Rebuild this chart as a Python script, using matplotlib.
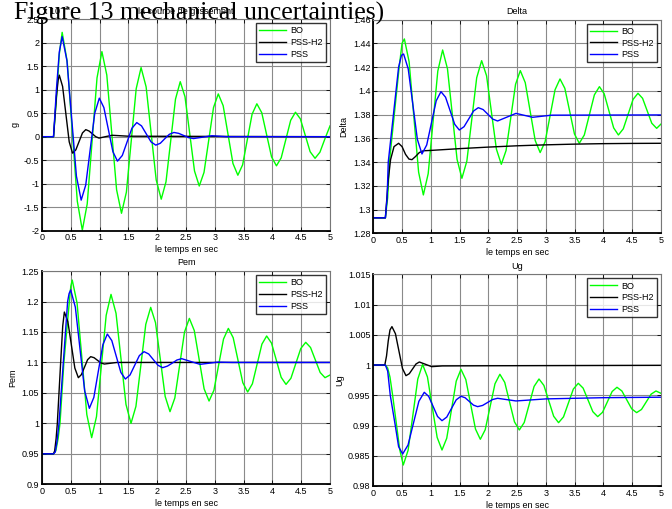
import matplotlib
matplotlib.use('Agg')
import matplotlib.pyplot as plt
import numpy as np

# ---- data ----
# panel 1: la courbe de glissement (g, x1e-3)
g_bo_t = [0, 0.2, 0.25, 0.30, 0.35, 0.4375, 0.525, 0.6125, 0.70, 0.785, 0.87, 0.955,
          1.04, 1.125, 1.21, 1.295, 1.38, 1.465, 1.55, 1.635, 1.72, 1.8075, 1.895, 1.9825,
          2.07, 2.1525, 2.235, 2.3175, 2.40, 2.4825, 2.565, 2.6475, 2.73, 2.8125, 2.895, 2.9775,
          3.06, 3.145, 3.23, 3.315, 3.40, 3.4825, 3.565, 3.6475, 3.73, 3.815, 3.90, 3.985,
          4.07, 4.1525, 4.235, 4.3175, 4.40, 4.485, 4.57, 4.655, 4.74, 4.825, 4.91, 5.0]
g_bo = [0, 0, 0.8, 1.75, 2.22, 1.60, 0.115, -1.37, -1.99, -1.43, -0.09, 1.25,
        1.81, 1.31, 0.09, -1.13, -1.63, -1.18, -0.08, 1.02, 1.47, 1.06, 0.07, -0.92,
        -1.33, -0.96, -0.08, 0.80, 1.17, 0.85, 0.06, -0.73, -1.05, -0.76, -0.07, 0.62,
        0.91, 0.66, 0.045, -0.57, -0.82, -0.60, -0.06, 0.48, 0.70, 0.51, 0.04, -0.43,
        -0.62, -0.45, -0.05, 0.35, 0.52, 0.38, 0.03, -0.32, -0.46, -0.33, -0.05, 0.23]
g_h2_t = [0, 0.2, 0.25, 0.28, 0.30, 0.3575, 0.415, 0.4725, 0.53, 0.5875, 0.645, 0.7025,
          0.76, 0.8175, 0.875, 0.9325, 0.99, 1.1, 1.22, 1.5, 5.0]
g_h2 = [0, 0, 0.85, 1.2, 1.31, 1.07, 0.48, -0.11, -0.35, -0.28, -0.10, 0.08,
        0.15, 0.12, 0.06, 0.0, -0.03, 0.0, 0.03, 0.01, 0.0]
g_pss_t = [0, 0.2, 0.25, 0.30, 0.35, 0.4325, 0.515, 0.5975, 0.68, 0.759, 0.8375, 0.916,
           0.995, 1.074, 1.1525, 1.231, 1.31, 1.394, 1.4775, 1.561, 1.645, 1.7275, 1.81, 1.8925,
           1.975, 2.054, 2.13, 2.21, 2.29, 2.375, 2.46, 2.545, 2.63, 2.95, 3.2, 5.0]
g_pss = [0, 0, 1.0, 1.8, 2.13, 1.62, 0.39, -0.84, -1.35, -1.03, -0.265, 0.50,
         0.82, 0.62, 0.15, -0.32, -0.52, -0.40, -0.11, 0.18, 0.30, 0.23, 0.06, -0.11,
         -0.18, -0.14, -0.045, 0.05, 0.09, 0.07, 0.025, -0.02, -0.04, 0.02, 0.0, 0.0]

# panel 2: Delta
d_bo_t = [0, 0.21, 0.25, 0.28, 0.365, 0.45, 0.50, 0.54, 0.6225, 0.705, 0.7875, 0.87,
          0.954, 1.0375, 1.121, 1.205, 1.289, 1.3725, 1.456, 1.54, 1.626, 1.7115, 1.797,
          1.883, 1.9685, 2.054, 2.1395, 2.225, 2.3075, 2.39, 2.4725, 2.555, 2.641, 2.7275,
          2.814, 2.90, 2.986, 3.0725, 3.159, 3.245, 3.329, 3.4125, 3.496, 3.58, 3.6675,
          3.755, 3.8425, 3.93, 4.0125, 4.095, 4.1775, 4.26, 4.345, 4.43, 4.515, 4.60,
          4.68, 4.76, 4.84, 4.925, 5.0]
d_bo = [1.293, 1.293, 1.31, 1.34, 1.38, 1.42, 1.44, 1.4437, 1.4245, 1.378, 1.3315, 1.3123,
        1.3302, 1.3734, 1.4166, 1.4344, 1.4186, 1.3804, 1.3422, 1.3263, 1.3408, 1.3759, 1.411,
        1.4254, 1.4127, 1.3818, 1.3509, 1.3381, 1.3497, 1.3776, 1.4055, 1.417, 1.4069, 1.3825,
        1.3581, 1.348, 1.3571, 1.379, 1.4009, 1.41, 1.4021, 1.3829, 1.3637, 1.3558, 1.3628,
        1.3797, 1.3966, 1.4035, 1.3976, 1.3832, 1.3688, 1.3628, 1.3680, 1.3804, 1.3928, 1.3979,
        1.3937, 1.3832, 1.3727, 1.3684, 1.372]
d_h2_t = [0, 0.21, 0.26, 0.30, 0.36, 0.44, 0.50, 0.56, 0.62, 0.672, 0.73, 0.80, 0.87,
          1.0, 1.5, 2.0, 2.5, 3.0, 3.5, 4.0, 4.5, 5.0]
d_h2 = [1.293, 1.293, 1.325, 1.342, 1.353, 1.3558, 1.353, 1.3465, 1.3425, 1.342, 1.3445,
        1.348, 1.3495, 1.3498, 1.3513, 1.3526, 1.3537, 1.3545, 1.3551, 1.3555, 1.3557, 1.3558]
d_pss_t = [0, 0.21, 0.24, 0.26, 0.35, 0.44, 0.49, 0.527, 0.607, 0.6865, 0.766, 0.846,
           0.9285, 1.011, 1.0935, 1.176, 1.256, 1.3355, 1.415, 1.495, 1.5775, 1.66, 1.7425,
           1.825, 1.909, 1.9925, 2.076, 2.16, 2.32, 2.48, 2.77, 3.1, 5.0]
d_pss = [1.293, 1.293, 1.31, 1.34, 1.38, 1.42, 1.43, 1.431, 1.4185, 1.3888, 1.3591, 1.3468,
         1.3544, 1.373, 1.3916, 1.3993, 1.3946, 1.3832, 1.3718, 1.367, 1.3698, 1.3764, 1.383,
         1.3858, 1.3842, 1.3802, 1.3762, 1.3746, 1.3778, 1.381, 1.3777, 1.3795, 1.3797]

# panel 3: Pem
p_bo_t = [0, 0.2, 0.24, 0.28, 0.3125, 0.38, 0.475, 0.50, 0.525, 0.609, 0.6935, 0.778,
          0.862, 0.946, 1.03, 1.114, 1.198, 1.285, 1.3715, 1.458, 1.545, 1.6305, 1.716,
          1.8015, 1.887, 1.9705, 2.0545, 2.138, 2.222, 2.306, 2.39, 2.474, 2.558, 2.6435,
          2.729, 2.8145, 2.90, 2.984, 3.0675, 3.151, 3.235, 3.319, 3.4025, 3.486, 3.57,
          3.6525, 3.735, 3.8175, 3.90, 3.984, 4.068, 4.152, 4.236, 4.3215, 4.407, 4.4925,
          4.578, 4.662, 4.7455, 4.829, 4.913, 5.0]
p_bo = [0.95, 0.95, 0.955, 0.975, 1.0, 1.1, 1.2, 1.225, 1.2352, 1.1973, 1.1059, 1.0145,
        0.9766, 1.0111, 1.0942, 1.1773, 1.2117, 1.1807, 1.1059, 1.0311, 1.0, 1.0279, 1.0952,
        1.1625, 1.1904, 1.1653, 1.1048, 1.0443, 1.0192, 1.0417, 1.0958, 1.1499, 1.1723, 1.1524,
        1.1045, 1.0566, 1.0367, 1.0542, 1.0963, 1.1384, 1.1559, 1.1406, 1.1037, 1.0668, 1.0515,
        1.065, 1.0975, 1.13, 1.1434, 1.1318, 1.1037, 1.0756, 1.064, 1.0741, 1.0985, 1.1229,
        1.133, 1.1245, 1.104, 1.0835, 1.075, 1.0794]
p_h2_t = [0, 0.2, 0.22, 0.245, 0.266, 0.324, 0.36, 0.388, 0.449, 0.5095, 0.57, 0.631,
          0.6845, 0.738, 0.7915, 0.845, 0.904, 0.9635, 1.023, 1.082, 1.3, 5.0]
p_h2 = [0.95, 0.95, 0.955, 0.975, 1.0, 1.1, 1.16, 1.1827, 1.167, 1.1289, 1.0908, 1.075,
        1.0801, 1.0923, 1.1045, 1.1095, 1.1078, 1.1035, 1.0992, 1.0974, 1.1, 1.1]
p_pss_t = [0, 0.2, 0.23, 0.26, 0.295, 0.37, 0.445, 0.47, 0.498, 0.579, 0.66, 0.741,
           0.822, 0.90, 0.978, 1.056, 1.134, 1.212, 1.2905, 1.369, 1.447, 1.528, 1.609,
           1.69, 1.771, 1.852, 1.933, 2.014, 2.095, 2.1775, 2.26, 2.3425, 2.425, 2.584,
           2.743, 3.05, 3.3, 5.0]
p_pss = [0.95, 0.95, 0.953, 0.97, 1.0, 1.1, 1.2, 1.213, 1.219, 1.1906, 1.1219, 1.0532,
         1.0247, 1.0426, 1.0857, 1.1288, 1.1466, 1.1358, 1.1097, 1.0836, 1.0728, 1.0794, 1.0953,
         1.1112, 1.1177, 1.1139, 1.1046, 1.0953, 1.0914, 1.094, 1.0988, 1.104, 1.1062, 1.1015,
         1.0969, 1.1005, 1.1, 1.1]

# panel 4: Ug
u_bo_t = [0, 0.21, 0.25, 0.29, 0.336, 0.405, 0.46, 0.521, 0.605, 0.689, 0.773, 0.857,
          0.941, 1.0255, 1.11, 1.194, 1.2765, 1.359, 1.4415, 1.524, 1.608, 1.692, 1.776,
          1.86, 1.945, 2.03, 2.115, 2.20, 2.2845, 2.369, 2.4535, 2.538, 2.6235, 2.709,
          2.7945, 2.88, 2.965, 3.05, 3.135, 3.22, 3.306, 3.3915, 3.477, 3.563, 3.647,
          3.7315, 3.816, 3.90, 3.984, 4.0675, 4.151, 4.235, 4.3205, 4.406, 4.4915, 4.577,
          4.661, 4.745, 4.829, 4.913, 5.0]
u_bo = [1.0, 1.0, 0.9995, 0.998, 0.995, 0.99, 0.986, 0.98347, 0.98591, 0.99179, 0.99767, 1.0001,
        0.99803, 0.99303, 0.98803, 0.98595, 0.98790, 0.99262, 0.99734, 0.99929, 0.9976, 0.99351, 0.98942,
        0.98772, 0.9893, 0.9931, 0.9969, 0.99847, 0.99713, 0.99387, 0.99061, 0.98926, 0.9905, 0.99348,
        0.99646, 0.99769, 0.99663, 0.99408, 0.99153, 0.99047, 0.99143, 0.99373, 0.99603, 0.99698, 0.99618,
        0.99423, 0.99228, 0.99147, 0.99218, 0.9939, 0.99562, 0.99632, 0.99571, 0.99423, 0.99275, 0.99213,
        0.99265, 0.99392, 0.99519, 0.99571, 0.99532]
u_h2_t = [0, 0.2, 0.23, 0.26, 0.29, 0.324, 0.385, 0.446, 0.507, 0.568, 0.626, 0.684,
          0.742, 0.80, 0.907, 1.014, 1.2, 2.0, 5.0]
u_h2 = [1.0, 1.0, 1.0015, 1.004, 1.0058, 1.00635, 1.00517, 1.0023, 0.99943, 0.99824, 0.99857, 0.99937,
        1.00017, 1.0005, 1.00012, 0.99973, 0.99985, 0.99988, 0.99995]
u_pss_t = [0, 0.21, 0.25, 0.295, 0.382, 0.44, 0.51, 0.604, 0.698, 0.792, 0.886, 0.963,
           1.04, 1.117, 1.194, 1.2765, 1.359, 1.4415, 1.524, 1.596, 1.6685, 1.741, 1.813,
           1.90, 1.987, 2.074, 2.161, 2.32, 2.48, 3.0, 4.0, 5.0]
u_pss = [1.0, 1.0, 0.999, 0.995, 0.99, 0.9865, 0.98529, 0.98678, 0.99039, 0.994, 0.99549, 0.99481,
         0.99315, 0.99149, 0.9908, 0.99139, 0.99282, 0.99425, 0.99483, 0.99459, 0.99398, 0.99337, 0.99312,
         0.99332, 0.99381, 0.9943, 0.9945, 0.99428, 0.99406, 0.9944, 0.9946, 0.99468]

series_names = ['BO', 'PSS-H2', 'PSS']
series_colors = ['#00ff00', '#000000', '#0000ff']

x_ticks = [0, 0.5, 1, 1.5, 2, 2.5, 3, 3.5, 4, 4.5, 5]

plt.rcParams['font.family'] = ['Liberation Sans', 'DejaVu Sans']


def style_axes(ax, title, ylabel, ylim, yticks):
    ax.set_xlim(0, 5)
    ax.set_ylim(*ylim)
    ax.set_xticks(x_ticks)
    ax.set_xticklabels(['%g' % v for v in x_ticks])
    ax.set_yticks(yticks)
    ax.set_yticklabels(['%g' % v for v in yticks])
    ax.tick_params(direction='in', top=True, right=True, length=3, width=0.6,
                   labelsize=6.5, pad=2)
    ax.grid(True, color='#8a8a8a', linewidth=0.8, linestyle='-')
    ax.set_axisbelow(True)
    for side in ['left', 'bottom']:
        ax.spines[side].set_linewidth(1.3)
        ax.spines[side].set_color('black')
    for side in ['top', 'right']:
        ax.spines[side].set_linewidth(0.8)
        ax.spines[side].set_color('#777777')
    ax.set_title(title, fontsize=6.5, pad=4)
    ax.set_xlabel('le temps en sec', fontsize=6.5, labelpad=2)
    ax.set_ylabel(ylabel, fontsize=6.5, labelpad=3)
    leg = ax.legend(loc='upper right', fontsize=6.5, frameon=True, fancybox=False,
                    borderaxespad=0.45, handlelength=3.0, handletextpad=0.5,
                    borderpad=0.35, labelspacing=0.3)
    leg.get_frame().set_edgecolor('black')
    leg.get_frame().set_linewidth(1.0)


def plot_panel(ax, curves):
    for (t, v), name, color in zip(curves, series_names, series_colors):
        ax.plot(t, v, color=color, linewidth=1.0, label=name)


fig = plt.figure(figsize=(6.72, 5.09), dpi=100)
ax1 = fig.add_axes([0.0625, 0.5468, 0.4286, 0.4155])
ax2 = fig.add_axes([0.5555, 0.5417, 0.4281, 0.4198])
ax3 = fig.add_axes([0.0625, 0.0485, 0.4286, 0.4190])
ax4 = fig.add_axes([0.5555, 0.0452, 0.4281, 0.4159])

plot_panel(ax1, [(g_bo_t, g_bo), (g_h2_t, g_h2), (g_pss_t, g_pss)])
style_axes(ax1, 'la courbe de glissement', 'g', (-2, 2.5),
           [-2, -1.5, -1, -0.5, 0, 0.5, 1, 1.5, 2, 2.5])
ax1.text(0.0, 1.01, r'x 10$^{-3}$', transform=ax1.transAxes, fontsize=6.5,
         ha='left', va='bottom')

plot_panel(ax2, [(d_bo_t, d_bo), (d_h2_t, d_h2), (d_pss_t, d_pss)])
style_axes(ax2, 'Delta', 'Delta', (1.28, 1.46),
           [1.28, 1.3, 1.32, 1.34, 1.36, 1.38, 1.4, 1.42, 1.44, 1.46])

plot_panel(ax3, [(p_bo_t, p_bo), (p_h2_t, p_h2), (p_pss_t, p_pss)])
style_axes(ax3, 'Pem', 'Pem', (0.9, 1.25),
           [0.9, 0.95, 1, 1.05, 1.1, 1.15, 1.2, 1.25])

plot_panel(ax4, [(u_bo_t, u_bo), (u_h2_t, u_h2), (u_pss_t, u_pss)])
style_axes(ax4, 'Ug', 'Ug', (0.98, 1.015),
           [0.98, 0.985, 0.99, 0.995, 1, 1.005, 1.01, 1.015])

# caption pasted over the top of the figure
fig.text(14 / 672, 1 - 19.5 / 509, 'Figure 13 mechanical uncertainties)',
         family=['Liberation Serif', 'DejaVu Serif'], fontsize=18.5,
         ha='left', va='baseline', zorder=10)

fig.savefig('out.png', dpi=100)
